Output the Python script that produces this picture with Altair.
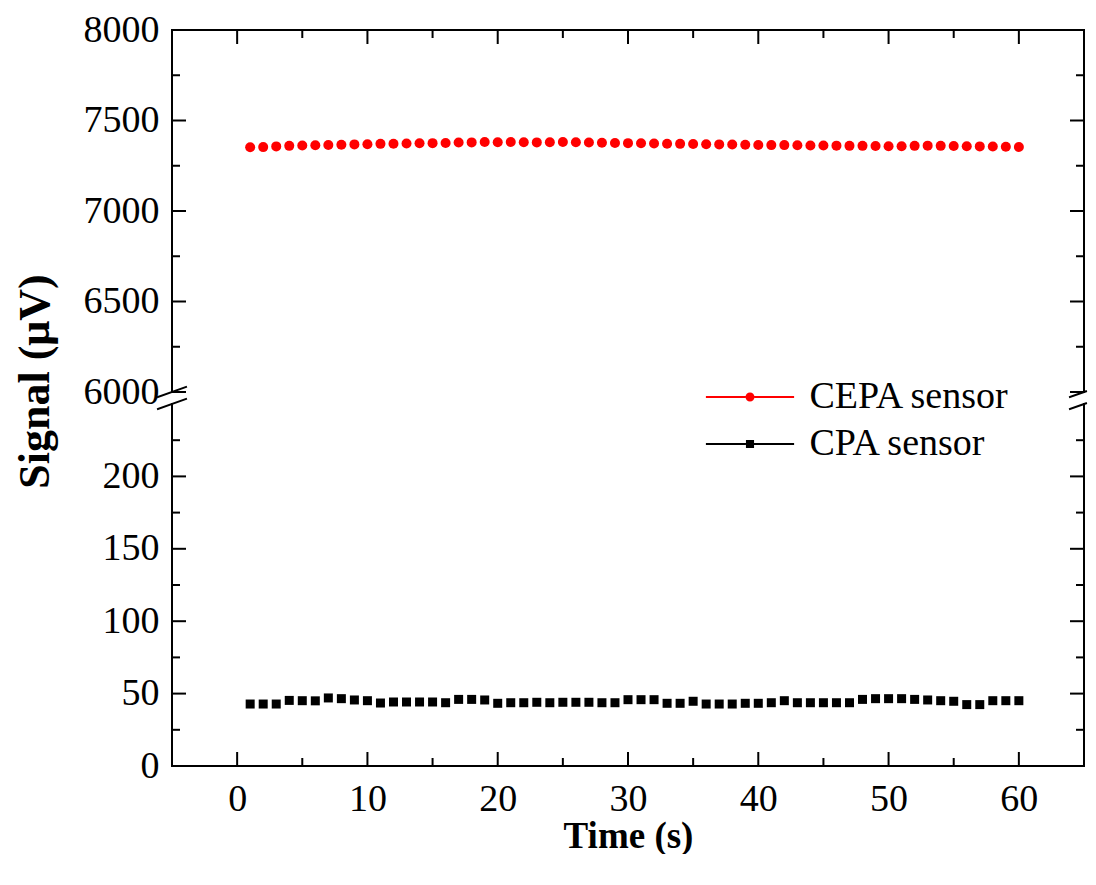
import altair as alt
import pandas as pd

# ---------------- data ----------------
time_s = list(range(1, 61))
cepa_uV = [7352, 7353, 7357, 7360, 7362, 7363, 7365, 7366, 7368, 7369,
           7371, 7372, 7373, 7374, 7375, 7376, 7378, 7379, 7381, 7380,
           7381, 7380, 7379, 7380, 7381, 7380, 7378, 7377, 7376, 7375,
           7374, 7373, 7372, 7371, 7370, 7369, 7368, 7367, 7366, 7365,
           7364, 7364, 7363, 7362, 7362, 7361, 7360, 7360, 7359, 7358,
           7358, 7360, 7361, 7360, 7359, 7358, 7357, 7356, 7355, 7354]
cpa_uV = [42.8, 42.8, 42.8, 45.3, 45.1, 45.0, 47.0, 46.5, 45.6, 45.1,
          43.5, 44.2, 44.2, 44.2, 44.2, 43.7, 46.0, 46.0, 45.6, 43.3,
          43.7, 43.7, 44.0, 43.7, 44.0, 44.0, 44.0, 43.7, 43.7, 45.8,
          45.8, 45.8, 43.3, 43.3, 44.7, 42.8, 42.8, 42.8, 43.3, 43.3,
          43.7, 45.1, 43.7, 43.7, 43.7, 43.7, 43.7, 46.0, 46.5, 46.5,
          46.5, 46.0, 45.6, 45.1, 44.7, 42.4, 42.4, 45.1, 45.1, 45.1]
series_names = ["CEPA sensor", "CPA sensor"]
series_colors = ["#ff0000", "#000000"]

x_major = [0, 10, 20, 30, 40, 50, 60]
x_minor = [5, 15, 25, 35, 45, 55]
top_major = [6000, 6500, 7000, 7500, 8000]
top_minor = [6250, 6750, 7250, 7750]
bot_major = [0, 50, 100, 150, 200]
bot_minor = [25, 75, 125, 175, 225]

# ---------------- style ----------------
W, H = 912, 362
FONT = "Liberation Serif"
FS = 38
MAJ, MIN = 14, 8
LW = 2

df_cepa = pd.DataFrame({"t": time_s, "v": cepa_uV})
df_cpa = pd.DataFrame({"t": time_s, "v": cpa_uV})
one = pd.DataFrame({"k": [0]})

xscale = alt.Scale(domain=[-5, 65], nice=False, zero=False)
top_scale = alt.Scale(domain=[6000, 8000], nice=False, zero=False)
bot_scale = alt.Scale(domain=[0, 250], nice=False, zero=False)

top_yaxis = alt.Axis(values=top_major, format="d", labelFont=FONT, labelFontSize=FS,
                     labelColor="black", labelPadding=13, ticks=False, tickSize=0,
                     domain=False, grid=False, title="Signal (μV)", titleFont=FONT,
                     titleFontSize=44, titleFontWeight="bold", titleColor="black",
                     titleX=-124, titleY=351, titleBaseline="alphabetic",
                     titleAlign="center")
bot_yaxis = alt.Axis(values=bot_major, format="d", labelFont=FONT, labelFontSize=FS,
                     labelColor="black", labelPadding=13, ticks=False, tickSize=0,
                     domain=False, grid=False, title=None)
bot_xaxis = alt.Axis(values=x_major, format="d", labelFont=FONT, labelFontSize=FS,
                     labelColor="black", labelPadding=14, ticks=False, tickSize=0,
                     domain=False, grid=False, title="Time (s)", titleFont=FONT,
                     titleFontSize=37, titleFontWeight="bold", titleColor="black",
                     titlePadding=0)


def rule(**kw):
    return alt.Chart(one).mark_rule(color="black", strokeWidth=LW, strokeCap="square").encode(**kw)


def yticks(vals, scale, axis, length):
    d = pd.DataFrame({"v": vals})
    left = alt.Chart(d).mark_rule(color="black", strokeWidth=LW).encode(
        y=alt.Y("v:Q", scale=scale, axis=axis), x=alt.value(0), x2=alt.value(length))
    right = alt.Chart(d).mark_rule(color="black", strokeWidth=LW).encode(
        y=alt.Y("v:Q", scale=scale, axis=axis), x=alt.value(W), x2=alt.value(W - length))
    return [left, right]


def xticks(vals, length, at_top, xaxis):
    d = pd.DataFrame({"t": vals})
    if at_top:
        ye = dict(y=alt.value(0), y2=alt.value(length))
    else:
        ye = dict(y=alt.value(H), y2=alt.value(H - length))
    return alt.Chart(d).mark_rule(color="black", strokeWidth=LW).encode(
        x=alt.X("t:Q", scale=xscale, axis=xaxis), **ye)


def breaks(y0):
    # two break slashes crossing the left and right axis lines at height y0
    return [
        rule(x=alt.value(-14), y=alt.value(y0 + 5), x2=alt.value(14), y2=alt.value(y0 - 5)),
        rule(x=alt.value(W - 14), y=alt.value(y0 + 5), x2=alt.value(W + 2), y2=alt.value(y0 - 0.7)),
    ]


# ---------------- top panel (6000-8000) ----------------
top_pts = alt.Chart(df_cepa).mark_circle(size=100, color="#ff0000", opacity=1).encode(
    x=alt.X("t:Q", scale=xscale, axis=None),
    y=alt.Y("v:Q", scale=top_scale, axis=top_yaxis))

top_layers = [top_pts]
top_layers += yticks(top_major, top_scale, top_yaxis, MAJ)
top_layers += yticks(top_minor, top_scale, top_yaxis, MIN)
top_layers += [xticks(x_major, MAJ, True, None), xticks(x_minor, MIN, True, None)]
top_layers += [
    rule(x=alt.value(0), x2=alt.value(W), y=alt.value(0)),
    rule(x=alt.value(0), y=alt.value(0), y2=alt.value(H)),
    rule(x=alt.value(W), y=alt.value(0), y2=alt.value(H)),
]
top_layers += breaks(H)
top = alt.layer(*top_layers).properties(width=W, height=H)

# ---------------- bottom panel (0-250) ----------------
circle_line = ("M-9.8,-0.24L-0.98,-0.24L-0.98,0.24L-9.8,0.24Z "
               "M0.98,-0.24L9.8,-0.24L9.8,0.24L0.98,0.24Z "
               "M-1,0A1,1,0,1,0,1,0A1,1,0,1,0,-1,0Z")
square_line = ("M-9.8,-0.24L-0.9,-0.24L-0.9,0.24L-9.8,0.24Z "
               "M0.9,-0.24L9.8,-0.24L9.8,0.24L0.9,0.24Z "
               "M-0.9,-0.9L0.9,-0.9L0.9,0.9L-0.9,0.9Z")

leg = alt.Legend(title=None, orient="none", legendX=559, legendY=-26,
                 labelFont=FONT, labelFontSize=FS, labelColor="black", labelLimit=0,
                 symbolSize=81, symbolStrokeWidth=0, labelOffset=40.5,
                 rowPadding=9, padding=0)

legend_layer = alt.Chart(pd.DataFrame({"series": series_names})).mark_point(
    filled=True, opacity=1).encode(
    color=alt.Color("series:N", scale=alt.Scale(domain=series_names, range=series_colors), legend=leg),
    shape=alt.Shape("series:N", scale=alt.Scale(domain=series_names, range=[circle_line, square_line]), legend=leg),
).transform_filter("datum.series == 'none'")

bot_pts = alt.Chart(df_cpa).mark_square(size=81, color="#000000", opacity=1).encode(
    x=alt.X("t:Q", scale=xscale, axis=bot_xaxis),
    y=alt.Y("v:Q", scale=bot_scale, axis=bot_yaxis))

bot_layers = [bot_pts]
bot_layers += yticks(bot_major, bot_scale, bot_yaxis, MAJ)
bot_layers += yticks(bot_minor, bot_scale, bot_yaxis, MIN)
bot_layers += [xticks(x_major, MAJ, False, bot_xaxis), xticks(x_minor, MIN, False, bot_xaxis)]
bot_layers += [
    rule(x=alt.value(0), x2=alt.value(W), y=alt.value(H)),
    rule(x=alt.value(0), y=alt.value(0), y2=alt.value(H)),
    rule(x=alt.value(W), y=alt.value(0), y2=alt.value(H)),
]
bot_layers += breaks(0)
bot_layers += [legend_layer]
bottom = alt.layer(*bot_layers).properties(width=W, height=H)

chart = alt.vconcat(top, bottom, spacing=12, bounds="flush").resolve_scale(
    color="independent", shape="independent"
).properties(
    padding={"left": 5, "top": 3, "right": 0, "bottom": 0}, background="white"
).configure_view(stroke=None)

chart.save("out.html", embed_options={"renderer": "svg", "actions": False})
